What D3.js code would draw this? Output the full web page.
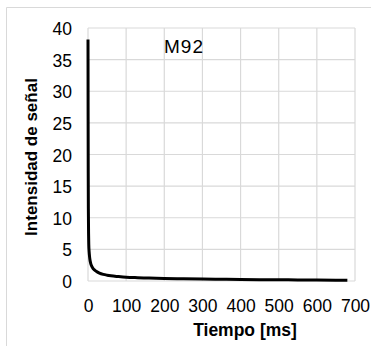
<!DOCTYPE html>
<html>
<head>
<meta charset="utf-8">
<script src="https://cdn.jsdelivr.net/npm/d3@7"></script>
<style>
  html, body { margin: 0; padding: 0; background: #fff; }
  svg { display: block; }
  text { font-family: "Liberation Sans", Arial, sans-serif; fill: #000; }
</style>
</head>
<body>
<svg id="chart" width="380" height="346"></svg>
<script>
// Signal decay of sample M92
const timeMs = [0, 0.3, 0.6, 1, 1.5, 2, 3, 4, 5, 7, 10, 13, 16, 20, 25, 30, 40, 50, 60, 80, 100, 130, 160, 200, 250, 300, 350, 400, 450, 500, 550, 600, 650, 680];
const intensity = [38.2, 26, 17, 11, 7.5, 5.8, 4.6, 3.9, 3.4, 2.8, 2.3, 2.0, 1.8, 1.6, 1.4, 1.25, 1.05, 0.92, 0.82, 0.7, 0.6, 0.52, 0.46, 0.4, 0.35, 0.3, 0.27, 0.24, 0.21, 0.19, 0.17, 0.15, 0.13, 0.12];
const xTicks = [0, 100, 200, 300, 400, 500, 600, 700];
const yTicks = [0, 5, 10, 15, 20, 25, 30, 35, 40];
const seriesLabel = "M92";
const xTitle = "Tiempo [ms]";
const yTitle = "Intensidad de señal";

const svg = d3.select("#chart");
const plot = { left: 88, right: 355, top: 28, bottom: 281 };

const x = d3.scaleLinear().domain([0, 700]).range([plot.left, plot.right]);
const y = d3.scaleLinear().domain([0, 40]).range([plot.bottom, plot.top]);

// chart frame
svg.append("path")
  .attr("d", "M6.5,346 V7.5 H371")
  .attr("fill", "none")
  .attr("stroke", "#d9d9d9")
  .attr("stroke-width", 1);

// gridlines
const grid = svg.append("g").attr("stroke", "#d9d9d9").attr("stroke-width", 1.2);
grid.selectAll("line.v").data(xTicks).join("line")
  .attr("x1", d => x(d)).attr("x2", d => x(d))
  .attr("y1", plot.top).attr("y2", plot.bottom);
grid.selectAll("line.h").data(yTicks).join("line")
  .attr("x1", plot.left).attr("x2", plot.right)
  .attr("y1", d => y(d)).attr("y2", d => y(d));

// axes (labels only, lines come from the grid)
const xAxis = svg.append("g")
  .attr("transform", `translate(0,${plot.bottom})`)
  .call(d3.axisBottom(x).tickValues(xTicks).tickSize(0).tickPadding(19));
const yAxis = svg.append("g")
  .attr("transform", `translate(${plot.left},0)`)
  .call(d3.axisLeft(y).tickValues(yTicks).tickSize(0).tickPadding(16));
[xAxis, yAxis].forEach(g => {
  g.select(".domain").remove();
  g.selectAll("text").attr("font-size", 17.5).attr("fill", "#000")
    .style("font-family", '"Liberation Sans", Arial, sans-serif');
});
xAxis.selectAll("text").attr("dy", null).attr("y", 31);
yAxis.selectAll("text").attr("dy", null).attr("y", 6.5);

// decay curve
svg.append("path")
  .datum(timeMs.map((t, i) => [t, intensity[i]]))
  .attr("fill", "none")
  .attr("stroke", "#000")
  .attr("stroke-width", 3)
  .attr("stroke-linejoin", "round")
  .attr("d", d3.line().x(d => x(d[0])).y(d => y(d[1])).curve(d3.curveMonotoneX));

// series label
svg.append("text")
  .attr("x", 164).attr("y", 52.5)
  .attr("font-size", 19)
  .attr("letter-spacing", 1)
  .text(seriesLabel);

// axis titles
svg.append("text")
  .attr("x", 245).attr("y", 336)
  .attr("text-anchor", "middle")
  .attr("font-size", 17.5).attr("font-weight", "bold")
  .text(xTitle);
svg.append("text")
  .attr("transform", "translate(37,157) rotate(-90)")
  .attr("text-anchor", "middle")
  .attr("font-size", 17).attr("font-weight", "bold")
  .text(yTitle);
</script>
</body>
</html>
